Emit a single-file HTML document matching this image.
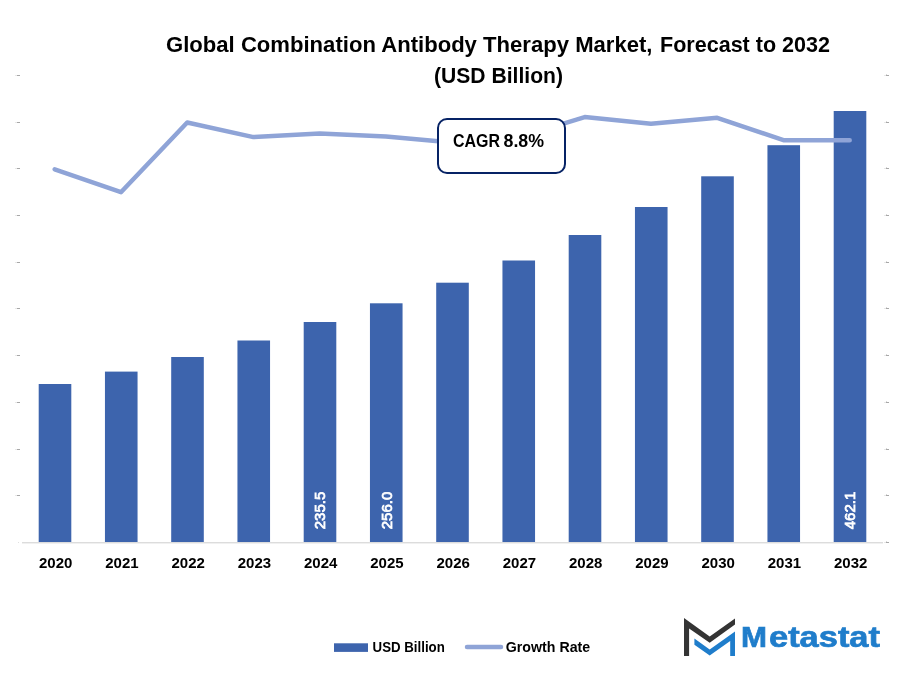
<!DOCTYPE html>
<html><head><meta charset="utf-8"><style>
html,body{margin:0;padding:0;background:#fff;width:901px;height:682px;overflow:hidden;}
svg text{font-family:"Liberation Sans",sans-serif;}
svg{will-change:transform;}
</style></head><body>
<svg width="901" height="682" viewBox="0 0 901 682" style="position:absolute;left:0;top:0">
<rect x="15" y="75" width="2" height="1" fill="#E8E8E8"/>
<rect x="17" y="75" width="3" height="1" fill="#A8A8A8"/>
<rect x="884" y="75" width="2" height="1" fill="#E8E8E8"/>
<rect x="886" y="75" width="3" height="1" fill="#A8A8A8"/>
<rect x="886" y="74" width="1" height="1" fill="#D8D8D8"/>
<rect x="15" y="122" width="2" height="1" fill="#E8E8E8"/>
<rect x="17" y="122" width="3" height="1" fill="#A8A8A8"/>
<rect x="884" y="122" width="2" height="1" fill="#E8E8E8"/>
<rect x="886" y="122" width="3" height="1" fill="#A8A8A8"/>
<rect x="886" y="121" width="1" height="1" fill="#D8D8D8"/>
<rect x="15" y="168" width="2" height="1" fill="#E8E8E8"/>
<rect x="17" y="168" width="3" height="1" fill="#A8A8A8"/>
<rect x="884" y="168" width="2" height="1" fill="#E8E8E8"/>
<rect x="886" y="168" width="3" height="1" fill="#A8A8A8"/>
<rect x="886" y="167" width="1" height="1" fill="#D8D8D8"/>
<rect x="15" y="215" width="2" height="1" fill="#E8E8E8"/>
<rect x="17" y="215" width="3" height="1" fill="#A8A8A8"/>
<rect x="884" y="215" width="2" height="1" fill="#E8E8E8"/>
<rect x="886" y="215" width="3" height="1" fill="#A8A8A8"/>
<rect x="886" y="214" width="1" height="1" fill="#D8D8D8"/>
<rect x="15" y="262" width="2" height="1" fill="#E8E8E8"/>
<rect x="17" y="262" width="3" height="1" fill="#A8A8A8"/>
<rect x="884" y="262" width="2" height="1" fill="#E8E8E8"/>
<rect x="886" y="262" width="3" height="1" fill="#A8A8A8"/>
<rect x="886" y="261" width="1" height="1" fill="#D8D8D8"/>
<rect x="15" y="308" width="2" height="1" fill="#E8E8E8"/>
<rect x="17" y="308" width="3" height="1" fill="#A8A8A8"/>
<rect x="884" y="308" width="2" height="1" fill="#E8E8E8"/>
<rect x="886" y="308" width="3" height="1" fill="#A8A8A8"/>
<rect x="886" y="307" width="1" height="1" fill="#D8D8D8"/>
<rect x="15" y="355" width="2" height="1" fill="#E8E8E8"/>
<rect x="17" y="355" width="3" height="1" fill="#A8A8A8"/>
<rect x="884" y="355" width="2" height="1" fill="#E8E8E8"/>
<rect x="886" y="355" width="3" height="1" fill="#A8A8A8"/>
<rect x="886" y="354" width="1" height="1" fill="#D8D8D8"/>
<rect x="15" y="402" width="2" height="1" fill="#E8E8E8"/>
<rect x="17" y="402" width="3" height="1" fill="#A8A8A8"/>
<rect x="884" y="402" width="2" height="1" fill="#E8E8E8"/>
<rect x="886" y="402" width="3" height="1" fill="#A8A8A8"/>
<rect x="886" y="401" width="1" height="1" fill="#D8D8D8"/>
<rect x="15" y="449" width="2" height="1" fill="#E8E8E8"/>
<rect x="17" y="449" width="3" height="1" fill="#A8A8A8"/>
<rect x="884" y="449" width="2" height="1" fill="#E8E8E8"/>
<rect x="886" y="449" width="3" height="1" fill="#A8A8A8"/>
<rect x="886" y="448" width="1" height="1" fill="#D8D8D8"/>
<rect x="15" y="495" width="2" height="1" fill="#E8E8E8"/>
<rect x="17" y="495" width="3" height="1" fill="#A8A8A8"/>
<rect x="884" y="495" width="2" height="1" fill="#E8E8E8"/>
<rect x="886" y="495" width="3" height="1" fill="#A8A8A8"/>
<rect x="886" y="494" width="1" height="1" fill="#D8D8D8"/>
<rect x="18" y="542" width="1" height="1" fill="#E0E0E0"/>
<rect x="884" y="542" width="2" height="1" fill="#E8E8E8"/>
<rect x="886" y="542" width="3" height="1" fill="#A8A8A8"/>
<rect x="886" y="541" width="1" height="1" fill="#D8D8D8"/>
<rect x="22" y="542.1" width="861" height="1.3" fill="#D9D9D9"/>
<rect x="38.70" y="384" width="32.6" height="158.00" fill="#3D64AD"/>
<rect x="104.95" y="371.6" width="32.6" height="170.40" fill="#3D64AD"/>
<rect x="171.20" y="357" width="32.6" height="185.00" fill="#3D64AD"/>
<rect x="237.45" y="340.5" width="32.6" height="201.50" fill="#3D64AD"/>
<rect x="303.70" y="322" width="32.6" height="220.00" fill="#3D64AD"/>
<rect x="369.95" y="303.3" width="32.6" height="238.70" fill="#3D64AD"/>
<rect x="436.20" y="282.7" width="32.6" height="259.30" fill="#3D64AD"/>
<rect x="502.45" y="260.5" width="32.6" height="281.50" fill="#3D64AD"/>
<rect x="568.70" y="235" width="32.6" height="307.00" fill="#3D64AD"/>
<rect x="634.95" y="207" width="32.6" height="335.00" fill="#3D64AD"/>
<rect x="701.20" y="176.3" width="32.6" height="365.70" fill="#3D64AD"/>
<rect x="767.45" y="145.2" width="32.6" height="396.80" fill="#3D64AD"/>
<rect x="833.70" y="111" width="32.6" height="431.00" fill="#3D64AD"/>
<polyline points="54.70,169.3 120.95,192.2 187.20,122.5 253.45,137.1 319.70,133.6 385.95,136.5 452.20,142.5 518.45,137.3 584.70,117.1 650.95,123.8 717.20,117.8 783.45,140.2 849.70,140.2" fill="none" stroke="#8FA4D7" stroke-width="4.5" stroke-linejoin="round" stroke-linecap="round"/>
<text x="55.70" y="568.3" text-anchor="middle" font-size="15" font-weight="bold" fill="#000">2020</text>
<text x="121.95" y="568.3" text-anchor="middle" font-size="15" font-weight="bold" fill="#000">2021</text>
<text x="188.20" y="568.3" text-anchor="middle" font-size="15" font-weight="bold" fill="#000">2022</text>
<text x="254.45" y="568.3" text-anchor="middle" font-size="15" font-weight="bold" fill="#000">2023</text>
<text x="320.70" y="568.3" text-anchor="middle" font-size="15" font-weight="bold" fill="#000">2024</text>
<text x="386.95" y="568.3" text-anchor="middle" font-size="15" font-weight="bold" fill="#000">2025</text>
<text x="453.20" y="568.3" text-anchor="middle" font-size="15" font-weight="bold" fill="#000">2026</text>
<text x="519.45" y="568.3" text-anchor="middle" font-size="15" font-weight="bold" fill="#000">2027</text>
<text x="585.70" y="568.3" text-anchor="middle" font-size="15" font-weight="bold" fill="#000">2028</text>
<text x="651.95" y="568.3" text-anchor="middle" font-size="15" font-weight="bold" fill="#000">2029</text>
<text x="718.20" y="568.3" text-anchor="middle" font-size="15" font-weight="bold" fill="#000">2030</text>
<text x="784.45" y="568.3" text-anchor="middle" font-size="15" font-weight="bold" fill="#000">2031</text>
<text x="850.70" y="568.3" text-anchor="middle" font-size="15" font-weight="bold" fill="#000">2032</text>
<text transform="translate(325.40,510.5) rotate(-90)" x="0" y="0" text-anchor="middle" font-size="15" font-weight="normal" fill="#fff" stroke="#fff" stroke-width="0.75">235.5</text>
<text transform="translate(391.65,510.5) rotate(-90)" x="0" y="0" text-anchor="middle" font-size="15" font-weight="normal" fill="#fff" stroke="#fff" stroke-width="0.75">256.0</text>
<text transform="translate(855.40,510.5) rotate(-90)" x="0" y="0" text-anchor="middle" font-size="15" font-weight="normal" fill="#fff" stroke="#fff" stroke-width="0.75">462.1</text>
<text x="166" y="52.2" font-size="21.5" font-weight="bold" fill="#000" textLength="486.5" lengthAdjust="spacingAndGlyphs">Global Combination Antibody Therapy Market,</text>
<text x="660" y="52.2" font-size="21.5" font-weight="bold" fill="#000" textLength="170" lengthAdjust="spacingAndGlyphs">Forecast to 2032</text>
<text x="434" y="82.5" font-size="21.5" font-weight="bold" fill="#000" textLength="129" lengthAdjust="spacingAndGlyphs">(USD Billion)</text>
<rect x="438" y="119" width="127" height="54" rx="9" ry="9" fill="#fff" stroke="#072365" stroke-width="2"/>
<text x="453" y="147.1" font-size="18" font-weight="bold" fill="#000" textLength="47" lengthAdjust="spacingAndGlyphs">CAGR</text>
<text x="503.5" y="147.1" font-size="18" font-weight="bold" fill="#000" textLength="40.5" lengthAdjust="spacingAndGlyphs">8.8%</text>
<rect x="334" y="643.3" width="34" height="8.6" fill="#3D64AD"/>
<text x="372.6" y="651.6" font-size="15.3" font-weight="bold" fill="#000" textLength="72.2" lengthAdjust="spacingAndGlyphs">USD Billion</text>
<line x1="467" y1="647.1" x2="501" y2="647.1" stroke="#8FA4D7" stroke-width="4.5" stroke-linecap="round"/>
<text x="505.8" y="651.6" font-size="15.3" font-weight="bold" fill="#000" textLength="84.4" lengthAdjust="spacingAndGlyphs">Growth Rate</text>
<polygon points="684,618 709.7,636.6 735,618.5 735,624.5 709.7,642.7 689.1,628.5 689.1,656 684,656" fill="#343434"/>
<polygon points="694.4,638.6 709.7,649.5 735,631.4 735,656 730.2,656 730.2,641 709.7,655.6 694.4,644.7" fill="#1F7DCB"/>
<text x="741" y="647" font-size="29" font-weight="bold" fill="#1F7DCB" stroke="#1F7DCB" stroke-width="0.7" textLength="26" lengthAdjust="spacingAndGlyphs">M</text>
<text x="769" y="647" font-size="29" font-weight="bold" fill="#1F7DCB" stroke="#1F7DCB" stroke-width="0.7" textLength="111" lengthAdjust="spacingAndGlyphs">etastat</text>
</svg>
</body></html>
